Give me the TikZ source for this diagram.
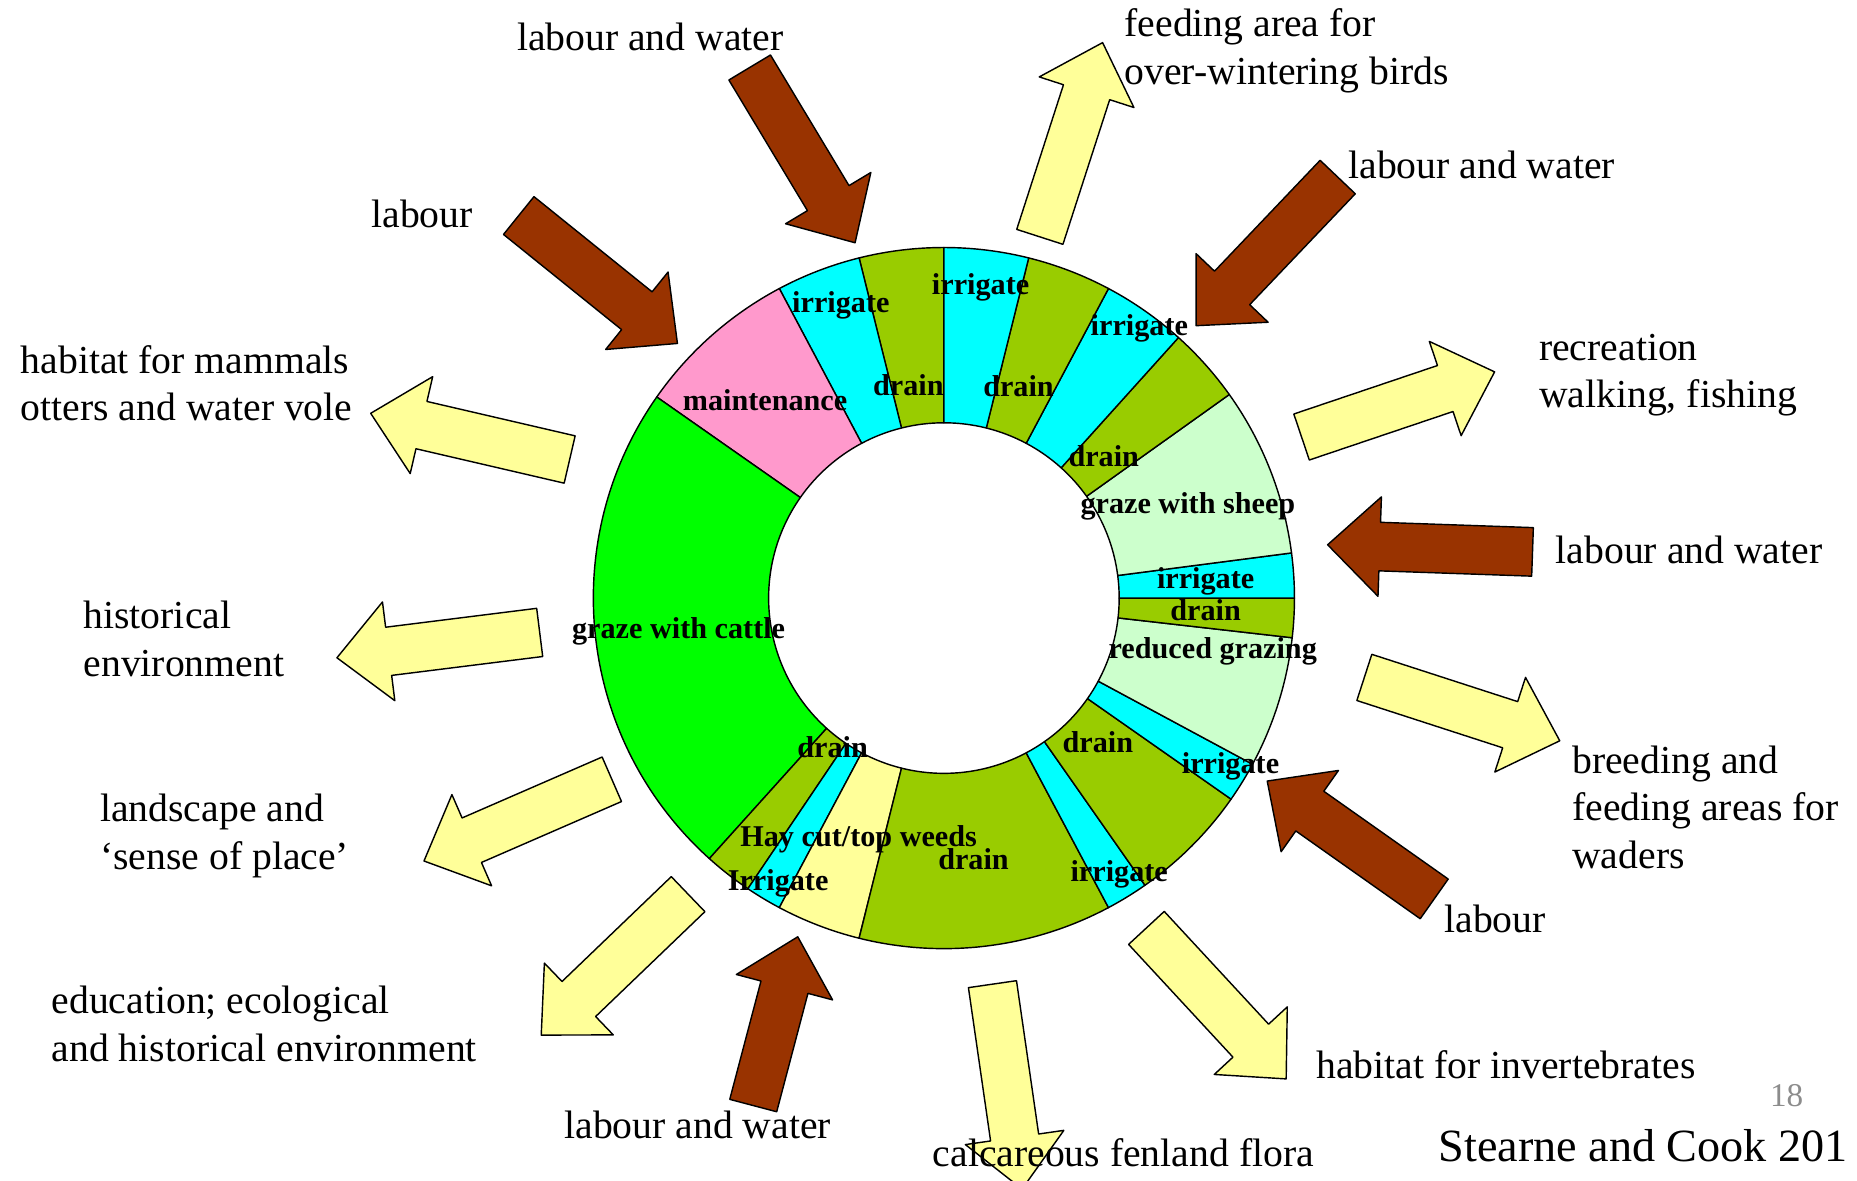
\documentclass[tikz,border=0pt]{standalone}
\usepackage{fontspec}
\setmainfont{Liberation Serif}
\usepackage{tikz}
\usetikzlibrary{calc}
\definecolor{brownin}{HTML}{993300}
\definecolor{paleout}{HTML}{FFFF99}
\definecolor{drainc}{HTML}{99CC00}
\definecolor{irrc}{HTML}{00FFFF}
\definecolor{maintc}{HTML}{FF99CC}
\definecolor{cattlec}{HTML}{00FF00}
\definecolor{sheepc}{HTML}{CCFFCC}
\definecolor{hayc}{HTML}{FFFF99}
\newcommand{\ringseg}[3]{%
  \filldraw[fill=#3] ($(c)+(#1:148)$) -- ($(c)+(#1:296)$) arc[start angle=#1,end angle=#2,radius=296]
    -- ($(c)+(#2:148)$) arc[start angle=#2,end angle=#1,radius=148] -- cycle;}
\newcommand{\blockarrow}[3]{%
  \coordinate (#2h) at ($(#3)!22pt!(#2)$);
  \filldraw[#1] ($(#2)!10.25pt!90:(#3)$) -- ($(#2h)!10.25pt!90:(#3)$)
    -- ($(#2h)!21pt!90:(#3)$) -- (#3) -- ($(#2h)!21pt!-90:(#3)$)
    -- ($(#2h)!10.25pt!-90:(#3)$) -- ($(#2)!10.25pt!-90:(#3)$) -- cycle;}

\begin{document}
\begin{tikzpicture}[x=0.5pt,y=0.5pt,line width=0.6pt,line join=round,
  inflow/.style={draw=black,fill=brownin},
  outflow/.style={draw=black,fill=paleout},
  task/.style={font=\fontsize{12.75}{14}\selectfont\bfseries,inner sep=0pt,anchor=base},
  effect/.style={font=\fontsize{16.75}{20}\selectfont,inner sep=0pt,anchor=base west,align=left}]
  \clip (0,0) rectangle (1568,997);
  \coordinate (c) at (797,492);
  % ring of tasks
  \ringseg{90}{104}{drainc}
  \ringseg{104}{118}{irrc}
  \ringseg{118}{145}{maintc}
  \ringseg{145}{228}{cattlec}
  \ringseg{228}{236}{drainc}
  \ringseg{236}{242}{irrc}
  \ringseg{242}{256}{hayc}
  \ringseg{256}{298}{drainc}
  \ringseg{298}{305}{irrc}
  \ringseg{305}{325}{drainc}
  \ringseg{325}{331.7}{irrc}
  \ringseg{331.7}{353.5}{sheepc}
  \ringseg{353.5}{360}{drainc}
  \ringseg{0}{7.4}{irrc}
  \ringseg{7.4}{35.5}{sheepc}
  \ringseg{35.5}{48}{drainc}
  \ringseg{48}{62}{irrc}
  \ringseg{62}{76}{drainc}
  \ringseg{76}{90}{irrc}
  % arrows in and out
  \coordinate (t1) at (633,940);    \coordinate (p1) at (722,792);
  \coordinate (t2) at (438,815);    \coordinate (p2) at (572,707);
  \coordinate (t3) at (481,609);    \coordinate (p3) at (313,648);
  \coordinate (t4) at (878,797);    \coordinate (p4) at (931,961);
  \coordinate (t5) at (1129.5,847.5); \coordinate (p5) at (1010,722);
  \coordinate (t6) at (1099,628);   \coordinate (p6) at (1262,683);
  \coordinate (t7) at (1294,531);   \coordinate (p7) at (1121,537);
  \coordinate (t8) at (1152,425);   \coordinate (p8) at (1317,371.5);
  \coordinate (t9) at (1211,238);   \coordinate (p9) at (1070,337.5);
  \coordinate (t10) at (968,213.5); \coordinate (p10) at (1086,86);
  \coordinate (t11) at (838,166);   \coordinate (p11) at (863,-7);
  \coordinate (t12) at (636,63.5);  \coordinate (p12) at (673.6,206);
  \coordinate (t13) at (581,242);   \coordinate (p13) at (457,123);
  \coordinate (t14) at (516.6,339); \coordinate (p14) at (358,270);
  \coordinate (t15) at (455.7,463); \coordinate (p15) at (284.5,441.6);
  \blockarrow{inflow}{t1}{p1}
  \blockarrow{inflow}{t2}{p2}
  \blockarrow{outflow}{t3}{p3}
  \blockarrow{outflow}{t4}{p4}
  \blockarrow{inflow}{t5}{p5}
  \blockarrow{outflow}{t6}{p6}
  \blockarrow{inflow}{t7}{p7}
  \blockarrow{outflow}{t8}{p8}
  \blockarrow{inflow}{t9}{p9}
  \blockarrow{outflow}{t10}{p10}
  \blockarrow{outflow}{t11}{p11}
  \blockarrow{inflow}{t12}{p12}
  \blockarrow{outflow}{t13}{p13}
  \blockarrow{outflow}{t14}{p14}
  \blockarrow{outflow}{t15}{p15}
  % task labels
  \node[task] (irr1) at (710,733) {irrigate};
  \node[task] (irr2) at (828,748) {irrigate};
  \node[task] (irr3) at (962,714) {irrigate};
  \node[task] (dr1) at (767,663) {drain};
  \node[task] (dr2) at (860,662) {drain};
  \node[task] (dr3) at (932,603) {drain};
  \node[task] (mnt) at (646,650) {maintenance};
  \node[task] (shp) at (1003,563) {graze with sheep};
  \node[task] (irr4) at (1018,500) {irrigate};
  \node[task] (dr4) at (1018,473) {drain};
  \node[task] (red) at (1024,441) {reduced grazing};
  \node[task] (ctl) at (573,458) {graze with cattle};
  \node[task] (dr5) at (703,357) {drain};
  \node[task] (dr6) at (927,362) {drain};
  \node[task] (irr5) at (1039,344) {irrigate};
  \node[task] (hay) at (725,282) {Hay cut/top weeds};
  \node[task] (dr7) at (822,263) {drain};
  \node[task] (irr6) at (657,245) {Irrigate};
  \node[task] (irr7) at (945,253) {irrigate};
  % inputs and benefits
  \node[effect] (lw1) at (436,954) {labour and water};
  \node[effect] (bird) at (949,926) {feeding area for\\over-wintering birds};
  \node[effect] (lb1) at (313,805) {labour};
  \node[effect] (lw2) at (1138,846) {labour and water};
  \node[effect] (mam) at (17,642) {habitat for mammals\\otters and water vole};
  \node[effect] (rec) at (1299,653) {recreation\\walking, fishing};
  \node[effect] (lw3) at (1313,521) {labour and water};
  \node[effect] (hist) at (70,426) {historical\\environment};
  \node[effect] (wad) at (1327,264) {breeding and\\feeding areas for\\waders};
  \node[effect] (land) at (84,263) {landscape and\\‘sense of place’};
  \node[effect] (lb2) at (1219,210) {labour};
  \node[effect] (edu) at (43,101) {education; ecological\\and historical environment};
  \node[effect] (inv) at (1111,86) {habitat for invertebrates};
  \node[effect] (lw4) at (476,36) {labour and water};
  \node[effect] (flora) at (787,12) {calcareous fenland flora};
  \node[inner sep=0pt,anchor=base west,text=black!45,font=\fontsize{14}{16}\selectfont] (pg) at (1494,63) {18};
  \node[inner sep=0pt,anchor=base west,font=\fontsize{19.5}{22}\selectfont] (src) at (1214,16) {Stearne and Cook 201};
\end{tikzpicture}
\end{document}
